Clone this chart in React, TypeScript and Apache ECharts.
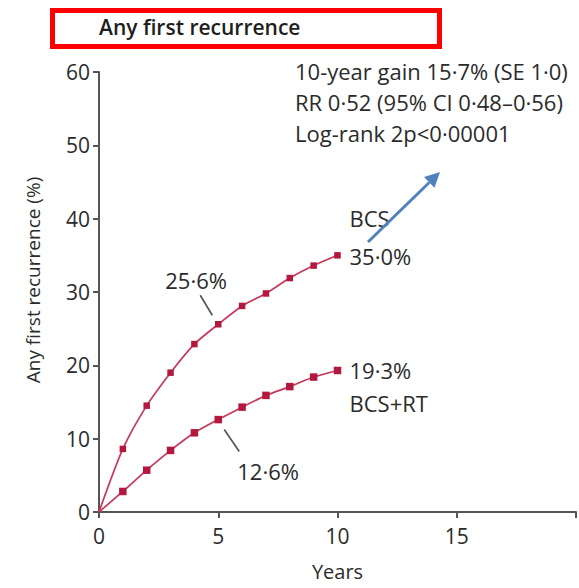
import React, { useEffect, useRef } from "react";
import * as echarts from "echarts";

const years = [0, 1, 2, 3, 4, 5, 6, 7, 8, 9, 10];
const bcs = [0, 8.6, 14.5, 19.0, 22.9, 25.6, 28.1, 29.8, 31.9, 33.6, 35.0];
const bcsRt = [0, 2.8, 5.7, 8.4, 10.8, 12.6, 14.3, 15.9, 17.1, 18.4, 19.3];
const seriesNames = ["BCS", "BCS+RT"];
const title = "Any first recurrence";
const yAxisName = "Any first recurrence (%)";
const xAxisName = "Years";
const statLines = [
  "10-year gain 15·7% (SE 1·0)",
  "RR 0·52 (95% CI 0·48–0·56)",
  "Log-rank 2p<0·00001",
];
const midYear = 5;
const midLabels = ["25·6%", "12·6%"];
const endYear = 10;
const endLabels = ["35·0%", "19·3%"];

const FONT = "'Open Sans', 'DejaVu Sans', sans-serif";
const TEXT = "#2b2b2b";
const LINE = "#c8365a";
const MARK = "#b3183f";

export default function App() {
  const ref = useRef<HTMLDivElement>(null);
  useEffect(() => {
    const chart = echarts.init(ref.current!, null, { renderer: "svg" });
    const mk = (vals: number[]) =>
      vals.map((v, i) => ({ value: [years[i], v], symbol: i === 0 ? "none" : "rect" }));
    chart.setOption({
      animation: false,
      backgroundColor: "#ffffff",
      grid: { left: 99, top: 72, width: 481, height: 440, containLabel: false },
      xAxis: {
        type: "value",
        min: 0,
        max: 20,
        interval: 5,
        name: xAxisName,
        nameLocation: "middle",
        nameGap: 49,
        nameTextStyle: { fontFamily: FONT, fontSize: 20, color: TEXT },
        axisLine: { lineStyle: { color: "#555", width: 2 } },
        axisTick: { show: true, inside: false, length: 6, lineStyle: { color: "#555", width: 2 } },
        axisLabel: {
          fontFamily: FONT,
          fontSize: 21,
          color: TEXT,
          margin: 13,
          formatter: (v: number) => (v === 20 ? "" : String(v)),
        },
        splitLine: { show: false },
      },
      yAxis: {
        type: "value",
        min: 0,
        max: 60,
        interval: 10,
        axisLine: { show: true, lineStyle: { color: "#555", width: 2 } },
        axisTick: { show: true, inside: false, length: 6, lineStyle: { color: "#555", width: 2 } },
        axisLabel: { fontFamily: FONT, fontSize: 21, color: TEXT, margin: 9 },
        splitLine: { show: false },
      },
      series: [
        {
          name: seriesNames[0],
          type: "line",
          data: mk(bcs),
          smooth: 0.25,
          symbolSize: 6.5,
          lineStyle: { color: LINE, width: 1.7 },
          itemStyle: { color: MARK },
        },
        {
          name: seriesNames[1],
          type: "line",
          data: mk(bcsRt),
          smooth: 0.25,
          symbolSize: 7.5,
          lineStyle: { color: LINE, width: 1.7 },
          itemStyle: { color: MARK },
        },
      ],
    });

    const px = (x: number, y: number) =>
      chart.convertToPixel({ gridIndex: 0 } as any, [x, y]) as number[];
    const txt = (text: string, x: number, y: number, size = 22, weight: any = "normal", color = TEXT) => ({
      type: "text",
      x,
      y,
      style: {
        text,
        fill: color,
        font: `${weight} ${size}px ${FONT}`,
        align: "left",
        verticalAlign: "middle",
      },
      silent: true,
    });
    const seg = (x1: number, y1: number, x2: number, y2: number, color = "#555", w = 1.7) => ({
      type: "line",
      shape: { x1, y1, x2, y2 },
      style: { stroke: color, lineWidth: w },
      silent: true,
    });

    const pA = px(midYear, bcs[years.indexOf(midYear)]);
    const pB = px(midYear, bcsRt[years.indexOf(midYear)]);
    const eA = px(endYear, bcs[years.indexOf(endYear)]);
    const eB = px(endYear, bcsRt[years.indexOf(endYear)]);

    // arrow
    const tip = [440, 172];
    const start = [368, 242];
    const dx = tip[0] - start[0];
    const dy = tip[1] - start[1];
    const len = Math.sqrt(dx * dx + dy * dy);
    const ux = dx / len;
    const uy = dy / len;
    const hl = 15;
    const hw = 7.5;
    const bx = tip[0] - ux * hl;
    const by = tip[1] - uy * hl;

    chart.setOption({
      graphic: [
        {
          type: "rect",
          shape: { x: 52.5, y: 10.5, width: 387, height: 36 },
          style: { fill: "none", stroke: "#ff0000", lineWidth: 5 },
          silent: true,
        },
        txt(title, 99, 27, 21, 600, "#1e1e1e"),
        {
          type: "text",
          x: 33,
          y: 280,
          rotation: Math.PI / 2,
          style: {
            text: yAxisName,
            fill: TEXT,
            font: `normal 19px ${FONT}`,
            align: "center",
            verticalAlign: "middle",
          },
          silent: true,
        },
        txt(statLines[0], 295, 71),
        txt(statLines[1], 295, 102),
        txt(statLines[2], 295, 133),
        seg(pA[0] - 18, pA[1] - 29, pA[0] - 6, pA[1] - 9),
        txt(midLabels[0], pA[0] - 53, pA[1] - 44),
        seg(pB[0] + 6, pB[1] + 10, pB[0] + 21, pB[1] + 32),
        txt(midLabels[1], pB[0] + 19, pB[1] + 51),
        txt(seriesNames[0], eA[0] + 12, eA[1] - 37),
        txt(endLabels[0], eA[0] + 12, eA[1] + 1),
        txt(endLabels[1], eB[0] + 12, eB[1] + 0),
        txt(seriesNames[1], eB[0] + 12, eB[1] + 33),
        seg(start[0], start[1], bx, by, "#4f81bd", 3),
        {
          type: "polygon",
          shape: {
            points: [
              [tip[0], tip[1]],
              [bx - uy * hw, by + ux * hw],
              [bx + uy * hw, by - ux * hw],
            ],
          },
          style: { fill: "#4f81bd" },
          silent: true,
        },
      ],
    });
    return () => chart.dispose();
  }, []);
  return <div ref={ref} style={{ position: "fixed", left: 0, top: 0, width: 579, height: 588 }} />;
}
